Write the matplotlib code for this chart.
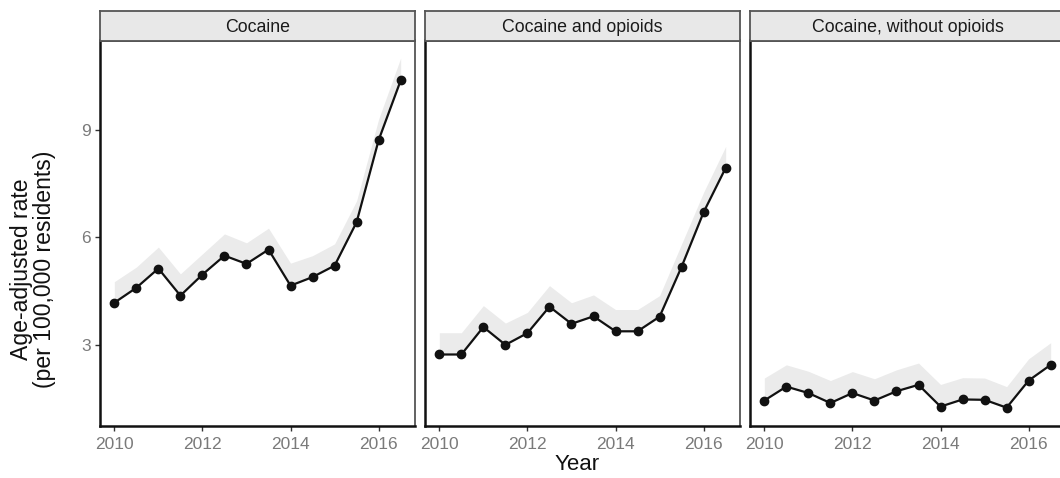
import matplotlib
matplotlib.use("Agg")
import matplotlib.pyplot as plt
from matplotlib.ticker import FixedLocator

plt.rcParams['font.family'] = ['Liberation Sans', 'DejaVu Sans']

years = [2010, 2010.5, 2011, 2011.5, 2012, 2012.5, 2013, 2013.5,
         2014, 2014.5, 2015, 2015.5, 2016, 2016.5]

panel_titles = ["Cocaine", "Cocaine and opioids", "Cocaine, without opioids"]

cocaine_rate = [4.17, 4.59, 5.13, 4.37, 4.96, 5.49, 5.26, 5.66,
                4.65, 4.89, 5.21, 6.43, 8.73, 10.40]
cocaine_upper = [4.76, 5.17, 5.73, 4.98, 5.54, 6.10, 5.85, 6.26,
                 5.28, 5.49, 5.82, 7.03, 9.32, 11.03]

with_opioids_rate = [2.72, 2.72, 3.49, 2.99, 3.32, 4.06, 3.58, 3.79,
                     3.37, 3.37, 3.78, 5.18, 6.71, 7.95]
with_opioids_upper = [3.33, 3.33, 4.09, 3.60, 3.90, 4.65, 4.17, 4.39,
                      3.98, 3.98, 4.37, 5.82, 7.27, 8.55]

without_opioids_rate = [1.43, 1.82, 1.64, 1.36, 1.64, 1.43, 1.69, 1.87,
                        1.26, 1.46, 1.45, 1.23, 1.99, 2.43]
without_opioids_upper = [2.06, 2.43, 2.25, 1.99, 2.24, 2.04, 2.29, 2.48,
                         1.88, 2.07, 2.06, 1.82, 2.60, 3.05]

rates = [cocaine_rate, with_opioids_rate, without_opioids_rate]
uppers = [cocaine_upper, with_opioids_upper, without_opioids_upper]

x_ticks = [2010, 2012, 2014, 2016]
y_ticks = [3, 6, 9]

W, H = 1060, 478
fig = plt.figure(figsize=(W / 100, H / 100), dpi=100)

panel_left = [100, 425, 750]
panel_w = 315
panel_top, panel_bottom = 40.5, 425.5
strip_top = 10.5

ymin, ymax = 0.73, 11.52
xmin, xmax = 2009.675, 2016.825

tick_grey = "#7a7a7a"
border_grey = "#555555"

for i in range(3):
    l = panel_left[i]
    ax = fig.add_axes([l / W, 1 - panel_bottom / H, panel_w / W,
                       (panel_bottom - panel_top) / H])
    ax.fill_between(years, rates[i], uppers[i], color="#ebebeb", lw=0, zorder=1)
    ax.plot(years, rates[i], color="#111111", lw=1.6, marker="o",
            markersize=6, zorder=3)
    ax.set_xlim(xmin, xmax)
    ax.set_ylim(ymin, ymax)
    ax.xaxis.set_major_locator(FixedLocator(x_ticks))
    ax.set_xticklabels([str(t) for t in x_ticks])
    ax.yaxis.set_major_locator(FixedLocator(y_ticks))
    if i == 0:
        ax.set_yticklabels([str(t) for t in y_ticks])
        ax.tick_params(axis="y", length=3.5, width=1, color="#333333",
                       labelsize=12.5, labelcolor=tick_grey, pad=3)
    else:
        ax.tick_params(axis="y", length=0, labelleft=False)
    ax.tick_params(axis="x", length=3.5, width=1, color="#333333",
                   labelsize=12.5, labelcolor=tick_grey, pad=5)
    for s in ("top", "right"):
        ax.spines[s].set_color(border_grey)
        ax.spines[s].set_linewidth(1.3)
    for s in ("left", "bottom"):
        ax.spines[s].set_color("#111111")
        ax.spines[s].set_linewidth(1.8)

    sax = fig.add_axes([l / W, 1 - panel_top / H, panel_w / W,
                        (panel_top - strip_top) / H])
    sax.set_facecolor("#e8e8e8")
    sax.set_xticks([])
    sax.set_yticks([])
    for s in sax.spines.values():
        s.set_color(border_grey)
        s.set_linewidth(1.3)
    sax.text(0.5, 0.42, panel_titles[i], ha="center", va="center",
             fontsize=12.8, color="#1a1a1a", transform=sax.transAxes)

fig.text(33 / W, 1 - 269 / H, "Age-adjusted rate\n(per 100,000 residents)",
         rotation=90, ha="center", va="center", fontsize=16.6,
         color="#111111", linespacing=1.05)
fig.text(577 / W, 1 - 465 / H, "Year", ha="center", va="center",
         fontsize=16, color="#111111")

fig.savefig("out.png", dpi=100)
